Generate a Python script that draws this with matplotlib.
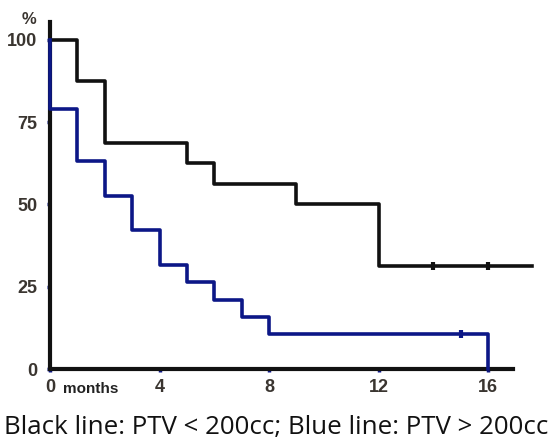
import matplotlib
matplotlib.use("Agg")
import matplotlib.pyplot as plt

# Kaplan-Meier style step data (months, %)
black_t = [0, 1, 2, 5, 6, 9, 12, 17.6]
black_s = [100, 87.5, 68.75, 62.5, 56.25, 50, 31.25, 31.25]
black_cens_t = [14, 16]
black_cens_s = [31.25, 31.25]

blue_t = [0, 0, 1, 2, 3, 4, 5, 6, 7, 8, 16, 16]
blue_s = [100, 78.9, 63.2, 52.6, 42.1, 31.6, 26.3, 21.05, 15.8, 10.5, 10.5, 0]
blue_cens_t = [15]
blue_cens_s = [10.5]

xticks = [0, 4, 8, 12, 16]
yticks = [0, 25, 50, 75, 100]
caption = "Black line: PTV < 200cc; Blue line: PTV > 200cc"

black = "#111111"
blue = "#0c1787"
tick_col = "#3a3530"

fig = plt.figure(figsize=(5.53, 4.43), dpi=100)
ax = fig.add_axes([50 / 553, (443 - 369) / 443, 482 / 553, 349 / 443])

ax.step(black_t, black_s, where="post", color=black, lw=2.6, clip_on=False, zorder=3)
ax.step(blue_t, blue_s, where="post", color=blue, lw=2.6, clip_on=False, zorder=3)
ax.plot(black_cens_t, black_cens_s, ls="none", marker="|", ms=5.5, mew=3, color=black, zorder=4)
ax.plot(blue_cens_t, blue_cens_s, ls="none", marker="|", ms=5.5, mew=3, color=blue, zorder=4)

ax.set_xlim(0, 17.6)
ax.set_ylim(0, 106)
for s in ["top", "right"]:
    ax.spines[s].set_visible(False)
for s in ["left", "bottom"]:
    ax.spines[s].set_linewidth(3)
    ax.spines[s].set_color(black)
ax.spines["left"].set_bounds(0, 105.5)
ax.spines["bottom"].set_bounds(0, 16.9)

ax.set_xticks(xticks)
ax.set_yticks(yticks)
ax.set_xticklabels([str(v) for v in xticks], fontsize=13, fontweight="bold",
                   color=tick_col, family="Liberation Sans")
ax.set_yticklabels([str(v) for v in yticks], fontsize=13, fontweight="bold",
                   color=tick_col, family="Liberation Sans")
ax.tick_params(axis="both", length=2, width=2.5, color=blue)
ax.tick_params(axis="x", pad=5)
ax.tick_params(axis="y", pad=7)

fig.text(63 / 553, 1 - 389 / 443, "months", fontsize=11, fontweight="bold",
         color="#222222", family="Liberation Sans", va="center", ha="left")
fig.text(22 / 553, 1 - 20 / 443, "%", fontsize=12, fontweight="bold",
         color=tick_col, family="Liberation Sans", va="center", ha="left")

# caption, sized to span the figure width like the reference
cap = fig.text(4 / 553, 1 - 434 / 443, caption, fontsize=18, color="#111111",
               family="Open Sans", va="baseline", ha="left")
fig.canvas.draw()
w = cap.get_window_extent().width
cap.set_fontsize(18 * 543 / w)

fig.savefig("out.png", dpi=100)
